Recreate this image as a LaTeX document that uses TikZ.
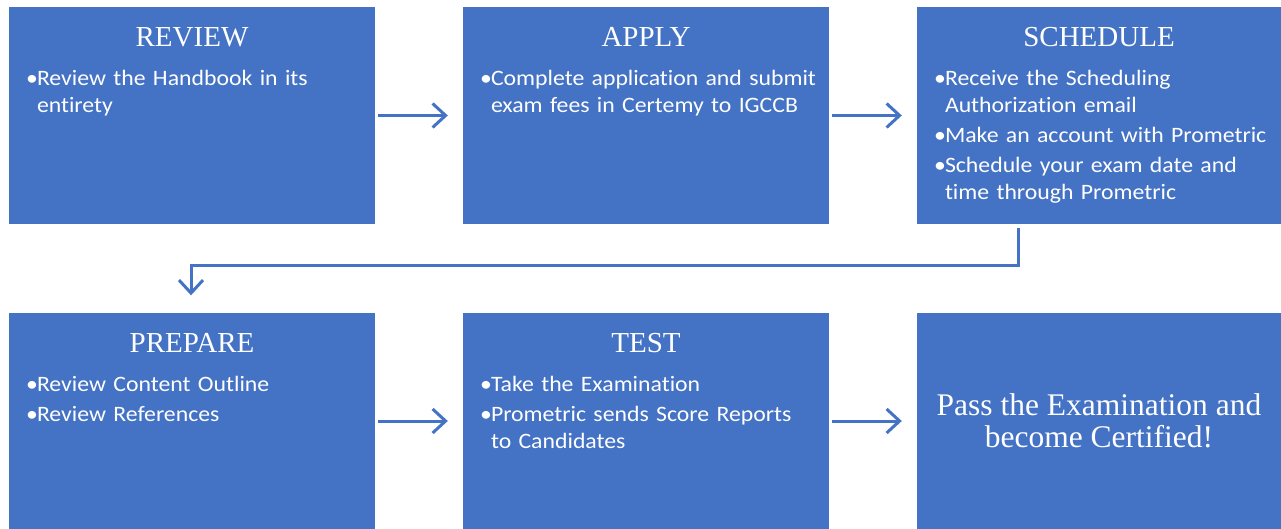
\documentclass[tikz,border=0pt]{standalone}
\usepackage{fontspec}
\setmainfont{Carlito}[FakeStretch=1.08, Ligatures=NoCommon]
\newfontfamily\ttlfont{Liberation Serif}
\usetikzlibrary{arrows.meta}
\definecolor{boxblue}{HTML}{4472C4}
\newcommand{\bitem}[1]{{\hyphenpenalty=10000\exhyphenpenalty=10000\hangindent=11pt\hangafter=1\noindent\makebox[11pt][l]{\textbullet}#1\par}}
\tikzset{
  box/.style={fill=boxblue, inner sep=0pt, minimum width=366pt, minimum height=217pt},
  ttl/.style={text=white, font=\ttlfont\fontsize{29}{32}\selectfont, anchor=base, inner sep=0pt},
  lst/.style={text=white, font=\fontsize{22}{27}\selectfont, anchor=base west, inner sep=0pt, text width=345pt, align=left},
  arr/.style={draw=boxblue, line width=3pt, -{Straight Barb[length=13pt, width=24pt, line width=3pt]}},
}
\begin{document}
\begin{tikzpicture}[x=1pt, y=-1pt]
\useasboundingbox (0,0) rectangle (1281,529);
\node[box] (b1) at (192,115.5) {};
\node[box] (b2) at (646,115.5) {};
\node[box, minimum width=364pt] (b3) at (1099,115.5) {};
\node[box] (b4) at (192,421) {};
\node[box] (b5) at (646,421) {};
\node[box, minimum width=364pt] (b6) at (1099,421) {};

\node[ttl] (t1) at ([yshift=-40pt]b1.north) {REVIEW};
\node[ttl] (t2) at ([yshift=-40pt]b2.north) {APPLY};
\node[ttl] (t3) at ([yshift=-40pt]b3.north) {SCHEDULE};
\node[ttl] (t4) at ([yshift=-40pt]b4.north) {PREPARE};
\node[ttl] (t5) at ([yshift=-40pt]b5.north) {TEST};

\node[lst] (l1) at ([xshift=17pt, yshift=-79pt]b1.north west) {\bitem{Review the Handbook in its\newline entirety}};
\node[lst] (l2) at ([xshift=17pt, yshift=-79pt]b2.north west) {\bitem{Complete application and submit\newline exam fees in Certemy to IGCCB}};
\node[lst] (l3) at ([xshift=17pt, yshift=-79pt]b3.north west) {\setlength{\parskip}{3pt}\bitem{Receive the Scheduling\newline Authorization email}\bitem{Make an account with Prometric}\bitem{Schedule your exam date and\newline time through Prometric}};
\node[lst] (l4) at ([xshift=17pt, yshift=-79pt]b4.north west) {\setlength{\parskip}{3pt}\bitem{Review Content Outline}\bitem{Review References}};
\node[lst] (l5) at ([xshift=17pt, yshift=-79pt]b5.north west) {\setlength{\parskip}{3pt}\bitem{Take the Examination}\bitem{Prometric sends Score Reports\newline to Candidates}};

\node[text=white, font=\ttlfont\fontsize{31.5}{32}\selectfont, align=center, inner sep=0pt] (p6) at (b6.center) {Pass the Examination and\\become Certified!};

\draw[arr, shorten <=3pt, shorten >=15pt] (b1.east) -- (b2.west);
\draw[arr, shorten <=3pt, shorten >=15pt] (b2.east) -- (b3.west);
\draw[arr, shorten <=3pt, shorten >=15pt] (b4.east) -- (b5.west);
\draw[arr, shorten <=3pt, shorten >=15pt] (b5.east) -- (b6.west);
\coordinate (c1) at ([xshift=-81pt, yshift=-4pt]b3.south);
\draw[arr, shorten >=17pt] (c1) -- ++(0,37) -| ([xshift=-1pt]b4.north);
\end{tikzpicture}
\end{document}
